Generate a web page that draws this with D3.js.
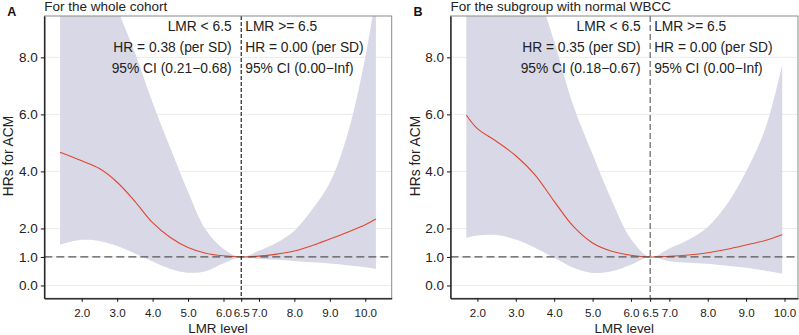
<!DOCTYPE html>
<html><head><meta charset="utf-8">
<script src="https://cdn.jsdelivr.net/npm/d3@7"></script>
<style>
html,body{margin:0;padding:0;background:#fff;}
svg{display:block;font-family:"Liberation Sans",Arial,Helvetica,sans-serif;}
</style></head>
<body><svg id="chart" width="799" height="335"></svg>
<script>
// ---- data ----
const xTicks = [2, 3, 4, 5, 6, 6.5, 7, 8, 9, 10];
const yTicks = [0, 1, 2, 4, 6, 8];
const knot = 6.5;

const xA     = [1.39, 2.0, 2.5, 3.0, 3.5, 4.0, 4.5, 5.0, 5.5, 6.0, 6.5, 7.0, 7.5, 8.0, 8.5, 9.0, 9.5, 10.0, 10.3];
const hrA    = [4.67, 4.37, 4.1, 3.62, 2.95, 2.2, 1.68, 1.33, 1.13, 1.04, 1.0, 1.03, 1.1, 1.21, 1.4, 1.63, 1.87, 2.13, 2.33];
const upperA = [18, 14.5, 11.8, 9.75, 8.16, 6.41, 4.82, 3.29, 1.95, 1.28, 1.0, 1.22, 1.5, 1.92, 2.66, 3.6, 5.3, 8.0, 10.2];
const lowerA = [1.43, 1.6, 1.56, 1.38, 1.12, 0.84, 0.58, 0.45, 0.5, 0.78, 1.0, 0.93, 0.9, 0.86, 0.81, 0.77, 0.71, 0.64, 0.58];

const xB     = [1.71, 2.0, 2.5, 3.0, 3.5, 4.0, 4.5, 5.0, 5.5, 6.0, 6.5, 7.0, 7.5, 8.0, 8.5, 9.0, 9.5, 9.94];
const hrB    = [5.98, 5.5, 5.05, 4.55, 3.88, 2.95, 2.07, 1.49, 1.2, 1.06, 1.0, 1.02, 1.07, 1.15, 1.27, 1.42, 1.58, 1.78];
const upperB = [16, 15, 13.5, 12.3, 10.6, 8.56, 6.3, 4.6, 2.98, 1.63, 1.0, 1.3, 1.6, 2.05, 2.85, 4.0, 5.5, 7.73];
const lowerB = [1.67, 1.75, 1.77, 1.61, 1.32, 0.97, 0.62, 0.44, 0.5, 0.73, 1.0, 0.85, 0.8, 0.76, 0.69, 0.62, 0.52, 0.42];

const panels = [
  {tag:"A", title:"For the whole cohort", x:xA, hr:hrA, up:upperA, lo:lowerA,
   left:44.3, right:391.7, hrTxt:"HR = 0.38 (per SD)", ciTxt:"95% CI (0.21\u22120.68)", vcol:"#111", vdash:"4,2"},
  {tag:"B", title:"For the subgroup with normal WBCC", x:xB, hr:hrB, up:upperB, lo:lowerB,
   left:450.5, right:798, hrTxt:"HR = 0.35 (per SD)", ciTxt:"95% CI (0.18\u22120.67)", vcol:"#555", vdash:"6,3"}
];
const rightHr = "HR = 0.00 (per SD)", rightCi = "95% CI (0.00\u2212Inf)";

const svg = d3.select("#chart");
const pTop = 16, pBottom = 298.3;
const y = d3.scaleLinear().domain([-0.45, 9.45]).range([pBottom, pTop]);
const curve = d3.curveCatmullRom.alpha(0.5);

panels.forEach((p, i) => {
  const ext = d3.extent(p.x), pad = (ext[1]-ext[0])*0.05;
  const x = d3.scaleLinear().domain([ext[0]-pad, ext[1]+pad]).range([p.left, p.right]);
  const g = svg.append("g");
  const cid = "clip"+i;
  svg.append("clipPath").attr("id", cid).append("rect")
    .attr("x", p.left).attr("y", pTop).attr("width", p.right-p.left).attr("height", pBottom-pTop);

  // gridlines
  g.selectAll(".gy").data(yTicks).join("line")
    .attr("x1", p.left).attr("x2", p.right)
    .attr("y1", d=>y(d)).attr("y2", d=>y(d))
    .attr("stroke", "#ebebeb").attr("stroke-width", 1);

  const rows = p.x.map((xv, k) => ({x:xv, hr:p.hr[k], up:p.up[k], lo:p.lo[k]}));
  const pc = g.append("g").attr("clip-path", `url(#${cid})`);
  pc.append("path").datum(rows)
    .attr("d", d3.area().x(d=>x(d.x)).y0(d=>y(d.lo)).y1(d=>y(d.up)).curve(curve))
    .attr("fill", "#d8d8e7");
  pc.append("path").datum(rows)
    .attr("d", d3.line().x(d=>x(d.x)).y(d=>y(d.hr)).curve(curve))
    .attr("fill", "none").attr("stroke", "#e0472e").attr("stroke-width", 1.1);

  // reference lines
  g.append("line").attr("x1", p.left).attr("x2", p.right).attr("y1", y(1)).attr("y2", y(1))
    .attr("stroke", "#555").attr("stroke-width", 1.2).attr("stroke-dasharray", "8,4");
  g.append("line").attr("x1", x(knot)).attr("x2", x(knot)).attr("y1", pTop).attr("y2", pBottom)
    .attr("stroke", p.vcol).attr("stroke-width", 1.1).attr("stroke-dasharray", p.vdash);

  // panel border
  g.append("rect").attr("x", p.left).attr("y", pTop).attr("width", p.right-p.left).attr("height", pBottom-pTop)
    .attr("fill", "none").attr("stroke", "#8a8a8a").attr("stroke-width", 1);

  // axes
  const ax = g.append("g").attr("transform", `translate(0,${pBottom})`)
    .call(d3.axisBottom(x).tickValues(xTicks).tickFormat(d3.format(".1f")).tickSize(3.5).tickSizeOuter(0).tickPadding(7));
  const ay = g.append("g").attr("transform", `translate(${p.left},0)`)
    .call(d3.axisLeft(y).tickValues(yTicks).tickFormat(d3.format(".1f")).tickSize(3.5).tickSizeOuter(0).tickPadding(3));
  [ax, ay].forEach(a => {
    a.select(".domain").attr("stroke", "#111").attr("stroke-width", 1.3);
    a.selectAll(".tick line").attr("stroke", "#111").attr("stroke-width", 1);
    a.selectAll(".tick text").attr("fill", "#222")
      .style("font-family", '"Liberation Sans",Arial,sans-serif');
  });
  ax.selectAll(".tick text").style("font-size", "11.6px");
  ay.selectAll(".tick text").style("font-size", "13.5px");

  // axis titles
  g.append("text").attr("x", (p.left+p.right)/2).attr("y", 333)
    .attr("text-anchor", "middle").attr("fill", "#222").style("font-size", "13.4px").text("LMR level");
  g.append("text").attr("transform", `translate(${p.left-31},156) rotate(-90)`)
    .attr("text-anchor", "middle").attr("fill", "#222").style("font-size", "13.8px").text("HRs for ACM");

  // titles
  g.append("text").attr("x", p.left).attr("y", 10.5).attr("fill", "#222").style("font-size", "13.5px").text(p.title);
  g.append("text").attr("x", p.left-37).attr("y", 16).attr("fill", "#111")
    .style("font-size", "12.5px").style("font-weight", "bold").text(p.tag);

  // annotations
  const xl = x(knot);
  const lines = [["LMR < 6.5", "LMR >= 6.5"], [p.hrTxt, rightHr], [p.ciTxt, rightCi]];
  const ys = [31, 52, 73];
  lines.forEach((l, k) => {
    g.append("text").attr("x", xl-9.5).attr("y", ys[k]).attr("text-anchor", "end")
      .attr("fill", "#222").style("font-size", "13.8px").text(l[0]);
    g.append("text").attr("x", xl+4).attr("y", ys[k]).attr("text-anchor", "start")
      .attr("fill", "#222").style("font-size", "13.8px").text(l[1]);
  });
});
</script></body></html>
